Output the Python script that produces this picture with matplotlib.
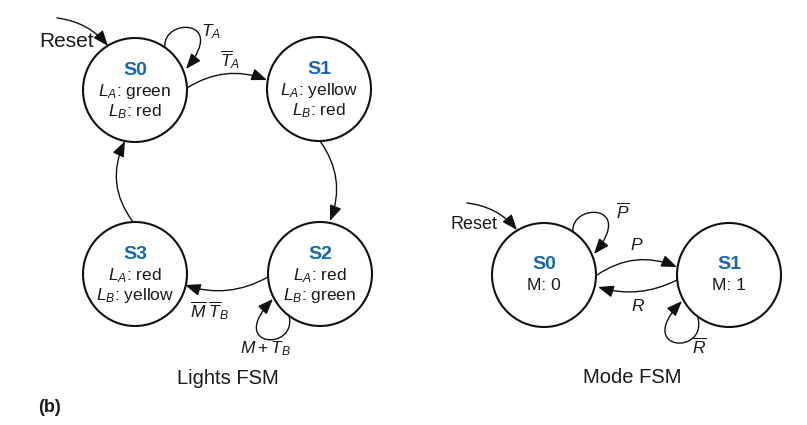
import matplotlib.pyplot as plt
from matplotlib.patches import Circle, FancyArrowPatch
from matplotlib.path import Path

plt.rcParams['font.family'] = ['Liberation Sans', 'DejaVu Sans']
plt.rcParams['mathtext.fontset'] = 'custom'
plt.rcParams['mathtext.rm'] = 'Liberation Sans'
plt.rcParams['mathtext.it'] = 'Liberation Sans:italic'
plt.rcParams['mathtext.bf'] = 'Liberation Sans:bold'

# --- states ---
light_states = ['S0', 'S1', 'S2', 'S3']
light_outputs = [[r'$L_A$: green', r'$L_B$: red'],
                 [r'$L_A$: yellow', r'$L_B$: red'],
                 [r'$L_A$: red', r'$L_B$: green'],
                 [r'$L_A$: red', r'$L_B$: yellow']]
mode_states = ['S0', 'S1']
mode_outputs = [['M: 0'], ['M: 1']]

# --- transitions (from, to, label) ---
light_edges = [('S0', 'S0', r'$T_A$'),
               ('S0', 'S1', r'$\overline{T}_A$'),
               ('S1', 'S2', ''),
               ('S2', 'S2', r'$M + T_B$'),
               ('S2', 'S3', r'$\overline{M}\;\overline{T}_B$'),
               ('S3', 'S0', '')]
mode_edges = [('S0', 'S0', r'$\overline{P}$'),
              ('S0', 'S1', r'$P$'),
              ('S1', 'S0', r'$R$'),
              ('S1', 'S1', r'$\overline{R}$')]
titles = ['Lights FSM', 'Mode FSM']

# --- layout (pixels, y down) ---
R = 52
light_pos = {'S0': (135, 90), 'S1': (319, 89), 'S2': (320, 274), 'S3': (135, 274)}
mode_pos = {'S0': (544, 275), 'S1': (729, 275)}

# curved edge geometry: start, end, rad
arc_geom = {('L', 'S0', 'S1'): ((187, 88), (267, 80), -0.25),
            ('L', 'S1', 'S2'): ((320, 141), (330, 221), -0.27),
            ('L', 'S2', 'S3'): ((268, 277), (185, 285), -0.22),
            ('L', 'S3', 'S0'): ((133, 222), (125, 141), -0.3),
            ('M', 'S0', 'S1'): ((597, 275), (677, 267), -0.27),
            ('M', 'S1', 'S0'): ((677, 280), (598, 287), -0.2)}
# self-loops: start, c1, c2, end
loop_geom = {('L', 'S0'): ((165, 47), (162, 18), (228, 18), (186, 69)),
             ('L', 'S2'): ((289, 315), (298, 352), (226, 348), (273, 299)),
             ('M', 'S0'): ((573, 232), (570, 203), (636, 203), (594, 254)),
             ('M', 'S1'): ((698, 318), (707, 356), (634, 351), (682, 301))}
# label anchors: (x, y, ha)
label_pos = {('L', 'S0', 'S0'): (201, 36, 'left'),
             ('L', 'S0', 'S1'): (220, 66, 'left'),
             ('L', 'S2', 'S2'): (240, 353, 'left'),
             ('L', 'S2', 'S3'): (190, 317, 'left'),
             ('M', 'S0', 'S0'): (616, 218, 'left'),
             ('M', 'S0', 'S1'): (637, 250, 'center'),
             ('M', 'S1', 'S0'): (638, 311, 'center'),
             ('M', 'S1', 'S1'): (692, 353, 'left')}
# reset arrows: start, end, text position, text size
resets = [((57, 18), (108, 46), (94, 47), 15), ((467, 203), (517, 230), (497, 229), 13)]
title_pos = [(228, 384), (632, 383)]

blue = '#1467b0'
ink = '#1a1a1a'
arrow_kw = dict(arrowstyle='-|>,head_length=0.85,head_width=0.33', mutation_scale=11,
                color='#111111', lw=1.0, shrinkA=0, shrinkB=0)

fig = plt.figure(figsize=(8.07, 4.25), dpi=100)
ax = fig.add_axes([0, 0, 1, 1])
ax.set_xlim(0, 807)
ax.set_ylim(425, 0)
ax.axis('off')


def draw_fsm(tag, states, outputs, pos, edges):
    for name, outs in zip(states, outputs):
        cx, cy = pos[name]
        ax.add_patch(Circle((cx, cy), R, fill=False, lw=1.5, ec='#111111'))
        if len(outs) == 2:
            offs = [-15, 6, 26]
        else:
            offs = [-6, 15]
        ax.text(cx, cy + offs[0], name, ha='center', va='baseline', fontsize=14,
                fontweight='bold', color=blue)
        for o, dy in zip(outs, offs[1:]):
            ax.text(cx, cy + dy, o, ha='center', va='baseline', fontsize=12.5, color=ink)
    for src, dst, lab in edges:
        if src == dst:
            p0, c1, c2, p1 = loop_geom[(tag, src)]
            path = Path([p0, c1, c2, p1], [Path.MOVETO, Path.CURVE4, Path.CURVE4, Path.CURVE4])
            ax.add_patch(FancyArrowPatch(path=path, **arrow_kw))
        else:
            p0, p1, rad = arc_geom[(tag, src, dst)]
            ax.add_patch(FancyArrowPatch(p0, p1, connectionstyle=f'arc3,rad={rad}', **arrow_kw))
        if lab:
            x, y, ha = label_pos[(tag, src, dst)]
            ax.text(x, y, lab, ha=ha, va='baseline', fontsize=12.5, color=ink)


draw_fsm('L', light_states, light_outputs, light_pos, light_edges)
draw_fsm('M', mode_states, mode_outputs, mode_pos, mode_edges)

for p0, p1, tp, fs in resets:
    ax.add_patch(FancyArrowPatch(p0, p1, connectionstyle='arc3,rad=-0.2', **arrow_kw))
    ax.text(tp[0], tp[1], 'Reset', ha='right', va='baseline', fontsize=fs, color=ink)

for t, (x, y) in zip(titles, title_pos):
    ax.text(x, y, t, ha='center', va='baseline', fontsize=14.5, color=ink)

ax.text(38, 412, '(b)', ha='left', va='baseline', fontsize=13, fontweight='bold', color=ink)

fig.savefig('out.png', dpi=100)
